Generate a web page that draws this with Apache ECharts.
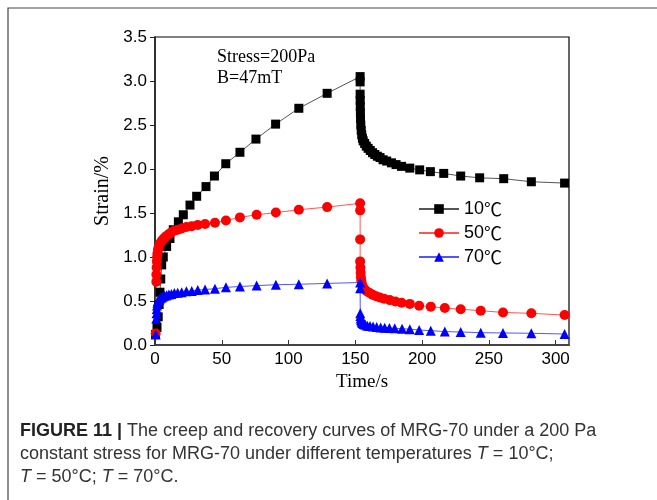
<!DOCTYPE html>
<html>
<head>
<meta charset="utf-8">
<script src="https://cdn.jsdelivr.net/npm/echarts@6/dist/echarts.min.js"></script>
<style>
  html, body { margin: 0; padding: 0; background: #fff; }
  #chart { width: 657px; height: 500px; }
</style>
</head>
<body>
<div id="chart"></div>
<script>
// 数据: [时间/s, 应变/%]
var legendNames = ['10℃', '50℃', '70℃'];

var strain10 = [
  [0.4, 0.12], [1.5, 0.2], [2.4, 0.32], [3.1, 0.46], [3.7, 0.6], [4.3, 0.75], [5.0, 0.91],
  [6.2, 1.0], [8.7, 1.12], [11.2, 1.21], [13.7, 1.31], [17.5, 1.4], [21.2, 1.48],
  [26.2, 1.59], [31.2, 1.69], [38.2, 1.8], [44.5, 1.92], [53.0, 2.06], [63.6, 2.19],
  [75.6, 2.34], [90.3, 2.51], [107.7, 2.69], [128.9, 2.86], [153.6, 3.05], [153.6, 2.99],
  // 回复阶段
  [153.6, 2.85], [153.65, 2.78], [153.7, 2.71], [153.8, 2.64], [153.9, 2.57], [154.1, 2.5],
  [154.4, 2.44], [154.8, 2.39], [155.3, 2.35], [155.9, 2.32], [157.0, 2.29], [158.2, 2.26],
  [159.6, 2.235], [161.2, 2.21], [162.9, 2.185], [164.6, 2.165], [166.5, 2.145], [168.5, 2.13],
  [170.8, 2.105], [173.5, 2.09], [177.1, 2.07], [180.5, 2.05], [184.6, 2.03], [190.8, 2.01],
  [198.2, 1.99], [206.2, 1.97], [216.2, 1.95], [228.9, 1.92], [243.1, 1.9], [261.1, 1.89],
  [281.8, 1.855], [306.7, 1.84]
];

var strain50 = [
  [0.5, 0.13], [1.0, 0.72], [1.0, 0.8], [1.2, 0.88], [1.4, 0.95], [1.6, 1.0], [1.8, 1.04],
  [2.2, 1.08], [2.7, 1.11], [3.3, 1.14], [4.0, 1.16], [5.0, 1.18], [6.0, 1.2], [7.2, 1.22],
  [8.7, 1.24], [10.4, 1.26], [12.3, 1.28], [14.5, 1.3], [17.0, 1.31], [20.0, 1.325],
  [23.5, 1.34], [27.5, 1.35], [32.0, 1.365], [37.5, 1.375], [44.9, 1.39], [53.1, 1.415],
  [63.6, 1.45], [76.1, 1.48], [90.5, 1.505], [107.7, 1.537], [128.9, 1.567], [153.6, 1.61],
  // 回复阶段
  [153.6, 1.53], [153.6, 1.2], [153.6, 0.95], [153.8, 0.88], [154.0, 0.82], [154.2, 0.77],
  [154.5, 0.73], [155.0, 0.69], [155.8, 0.66], [157.0, 0.63], [158.5, 0.61], [160.8, 0.59],
  [163.0, 0.57], [165.5, 0.555], [168.3, 0.54], [171.5, 0.525], [175.8, 0.51], [180.0, 0.495],
  [184.6, 0.48], [190.8, 0.467], [197.8, 0.447], [206.5, 0.436], [217.0, 0.42], [228.9, 0.406],
  [243.9, 0.39], [260.6, 0.37], [281.8, 0.36], [306.7, 0.34]
];

var strain70 = [
  [0.5, 0.12], [1.0, 0.3], [1.1, 0.36], [1.3, 0.41], [1.5, 0.45], [1.8, 0.48], [2.2, 0.5],
  [2.7, 0.51], [3.3, 0.52], [4.0, 0.53], [5.0, 0.54], [6.0, 0.55], [7.2, 0.56], [8.7, 0.565],
  [10.4, 0.575], [12.3, 0.58], [14.5, 0.59], [17.0, 0.595], [20.0, 0.6], [23.5, 0.61],
  [27.5, 0.615], [32.0, 0.625], [37.5, 0.63], [44.9, 0.64], [53.1, 0.655], [63.6, 0.665],
  [76.1, 0.675], [90.5, 0.685], [107.7, 0.69], [128.9, 0.7], [153.6, 0.71],
  // 回复阶段
  [153.6, 0.645], [153.7, 0.36], [153.8, 0.33], [154.0, 0.3], [154.3, 0.28], [154.7, 0.265],
  [155.3, 0.25], [156.2, 0.24], [157.5, 0.23], [159.0, 0.22], [161.0, 0.215], [163.3, 0.21],
  [166.0, 0.205], [169.0, 0.2], [172.0, 0.197], [175.5, 0.193], [179.5, 0.19], [185.0, 0.185],
  [190.8, 0.18], [197.8, 0.17], [206.5, 0.163], [217.0, 0.152], [228.9, 0.148], [243.9, 0.14],
  [260.6, 0.137], [281.8, 0.133], [306.7, 0.125]
];

var noteLines = ['Stress=200Pa', 'B=47mT'];

var myChart = echarts.init(document.getElementById('chart'), null, { renderer: 'canvas' });

var option = {
  animation: false,
  backgroundColor: '#fff',
  grid: {
    left: 155, right: 88, top: 37, bottom: 155,
    show: true, borderColor: '#000', borderWidth: 1.2
  },
  legend: {
    data: legendNames,
    orient: 'vertical',
    left: 418, top: 200,
    padding: 0,
    itemWidth: 40, itemHeight: 12, itemGap: 6,
    formatter: function (name) {
      return '{a|' + name.replace('℃', '') + '}{c|℃}';
    },
    textStyle: {
      color: '#000',
      rich: {
        a: { fontFamily: 'Liberation Sans', fontSize: 18, color: '#000', lineHeight: 18 },
        c: { fontFamily: '"Noto Sans CJK SC"', fontSize: 18, color: '#000', lineHeight: 18 }
      }
    }
  },
  xAxis: {
    type: 'value',
    min: 0, max: 310, interval: 50,
    name: 'Time/s',
    nameLocation: 'middle',
    nameGap: 16,
    nameTextStyle: { fontFamily: 'Liberation Serif', fontSize: 19, color: '#000' },
    axisLine: { lineStyle: { color: '#444', width: 2 } },
    axisTick: { inside: true, length: 5, lineStyle: { color: '#333' } },
    axisLabel: {
      fontFamily: 'Liberation Sans', fontSize: 17, color: '#000', margin: 6,
      showMaxLabel: false
    },
    splitLine: { show: false }
  },
  yAxis: {
    type: 'value',
    min: 0, max: 3.5, interval: 0.5,
    name: 'Strain/%',
    nameLocation: 'middle',
    nameGap: 38,
    nameTextStyle: { fontFamily: 'Liberation Serif', fontSize: 20, color: '#000' },
    axisLine: { lineStyle: { color: '#222', width: 1.5 } },
    axisTick: { inside: false, length: 5, lineStyle: { color: '#222' } },
    axisLabel: {
      fontFamily: 'Liberation Sans', fontSize: 17, color: '#000', margin: 8,
      formatter: function (v) { return v.toFixed(1); }
    },
    splitLine: { show: false }
  },
  series: [
    {
      name: legendNames[0], type: 'line', data: strain10,
      symbol: 'rect', symbolSize: 9,
      itemStyle: { color: '#000' },
      lineStyle: { color: '#555', width: 1 }
    },
    {
      name: legendNames[1], type: 'line', data: strain50,
      symbol: 'circle', symbolSize: 10,
      itemStyle: { color: '#ff0000' },
      lineStyle: { color: '#ff5555', width: 1 }
    },
    {
      name: legendNames[2], type: 'line', data: strain70,
      symbol: 'triangle', symbolSize: 10,
      itemStyle: { color: '#0000ff' },
      lineStyle: { color: '#5555ff', width: 1 }
    }
  ],
  graphic: [
    {
      type: 'rect', silent: true,
      shape: { x: 8, y: 8, width: 800, height: 700 },
      style: { fill: 'none', stroke: '#444', lineWidth: 1.2 }
    },
    {
      type: 'text', left: 217, top: 47,
      style: {
        text: noteLines.join('\n'),
        font: '18px "Liberation Serif"', fill: '#000', lineHeight: 21
      }
    },
    {
      type: 'text', left: 20, top: 422,
      style: {
        rich: {
          b: { fontFamily: 'Liberation Sans', fontSize: 18, fontWeight: 'bold', fill: '#222', lineHeight: 23 },
          n: { fontFamily: 'Liberation Sans', fontSize: 18, fill: '#333', lineHeight: 23 },
          i: { fontFamily: 'Liberation Sans', fontSize: 18, fontStyle: 'italic', fill: '#333', lineHeight: 23 }
        },
        text: '{b|FIGURE 11 | }{n|The creep and recovery curves of MRG-70 under a 200 Pa}\n' +
              '{n|constant stress for MRG-70 under different temperatures }{i|T}{n| = 10°C;}\n' +
              '{i|T}{n| = 50°C; }{i|T}{n| = 70°C.}'
      }
    }
  ]
};

myChart.setOption(option);
</script>
</body>
</html>
